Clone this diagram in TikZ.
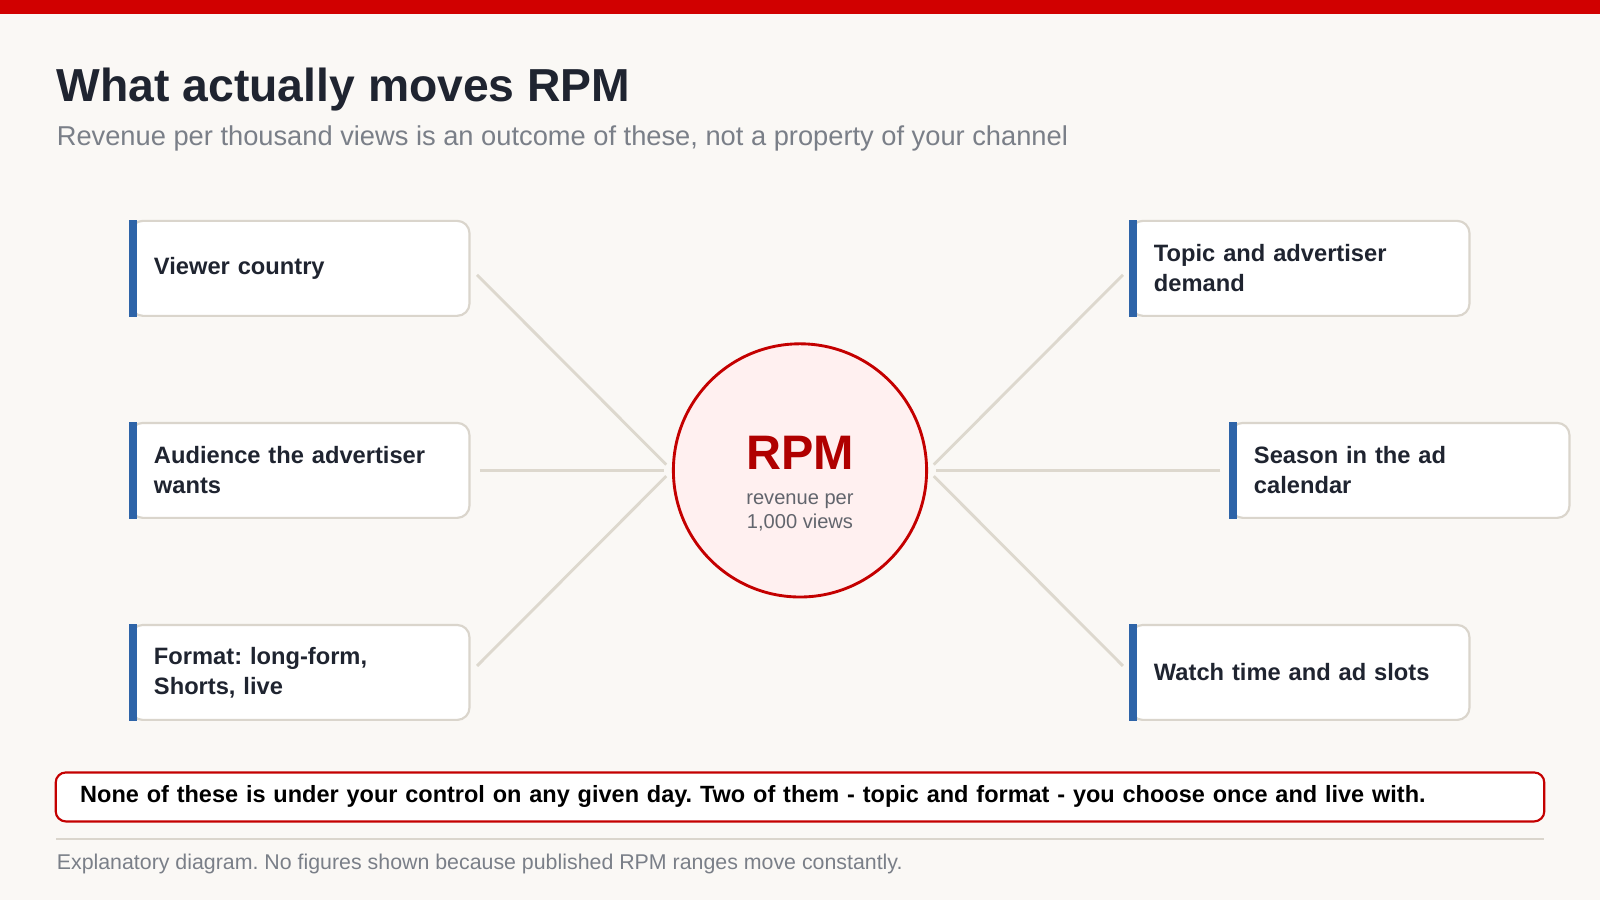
\documentclass[tikz,border=0pt]{standalone}
\usepackage{fontspec}
\setmainfont{Liberation Sans}
\usetikzlibrary{calc, positioning}
\frenchspacing
\definecolor{bgpaper}{HTML}{FAF8F5}
\definecolor{rpmred}{HTML}{C40000}
\definecolor{barred}{HTML}{D10000}
\definecolor{inkdark}{HTML}{1F2430}
\definecolor{inkgray}{HTML}{7A7F88}
\definecolor{edgegray}{HTML}{DAD5CC}
\definecolor{linkgray}{HTML}{DDD8CE}
\definecolor{barblue}{HTML}{2E64A8}
\tikzset{
    factor/.style={rectangle, draw=edgegray, line width=0.6pt, fill=white, rounded corners=0.12cm,
        minimum width=3.32cm, minimum height=0.93cm, text width=2.86cm, inner xsep=0.23cm,
        align=left, font=\fontsize{6.6}{8.4}\selectfont\bfseries, text=inkdark},
    link/.style={draw=linkgray, line width=0.8pt, shorten <=0.09cm, shorten >=0.08cm},
    hub/.style={circle, draw=rpmred, line width=0.8pt, fill=red!6, minimum size=2.48cm, align=center, inner sep=0pt},
    note/.style={rectangle, draw=rpmred, line width=0.6pt, fill=white, rounded corners=0.1cm,
        minimum width=14.58cm, minimum height=0.48cm, text width=14.1cm, align=left,
        font=\fontsize{6.55}{7.8}\selectfont\bfseries, text=black}
}
\newcommand{\sidebar}[1]{\fill[barblue] (#1.north west) rectangle ([xshift=0.07cm]#1.south west);}
\begin{document}
\begin{tikzpicture}[x=0.01cm, y=-0.01cm]
        \useasboundingbox (0,0) rectangle (1568,882);
        \fill[bgpaper] (0,0) rectangle (1568,882);
        \fill[barred] (0,0) rectangle (1568,14);

        % Heading
        \node[anchor=base west, inner sep=0pt, font=\fontsize{12.9}{15}\selectfont\bfseries, text=inkdark] (title) at (55,99) {What actually moves RPM};
        \node[anchor=base west, inner sep=0pt, font=\fontsize{7.6}{9}\selectfont, text=inkgray] (subtitle) at (55,143) {Revenue per thousand views is an outcome of these, not a property of your channel};

        % Centre
        \node[hub] (rpm) at (784,461) {};
        \node[font=\fontsize{13.5}{15}\selectfont\bfseries, text=rpmred!90!black, inner sep=0pt, anchor=base] (rpmname) at (784,460) {RPM};
        \node[font=\fontsize{5.6}{6.8}\selectfont, text=inkgray!80!black, align=center, inner sep=0pt, anchor=north] (rpmsub) at (784,483) {revenue per\\1,000 views};

        % Left factors
        \node[factor] (country) at (294,263) {Viewer country};
        \node[factor] (audience) at (294,461) {Audience the advertiser\\wants};
        \node[factor] (format) at (294,659) {Format: long-form,\\Shorts, live};

        % Right factors
        \node[factor] (topic) at (1274,263) {Topic and advertiser\\demand};
        \node[factor] (season) at (1372,461) {Season in the ad\\calendar};
        \node[factor] (watch) at (1274,659) {Watch time and ad slots};

        \foreach \f in {country, audience, format, topic, season, watch} {\sidebar{\f}}

        % Connections
        \draw[link] (country.east) -- (rpm.west);
        \draw[link] (audience.east) -- (rpm.west);
        \draw[link] (format.east) -- (rpm.west);
        \draw[link] (topic.west) -- (rpm.east);
        \draw[link] (season.west) -- (rpm.east);
        \draw[link] (watch.west) -- (rpm.east);

        % Bottom
        \node[note] (remark) at (784,781) {None of these is under your control on any given day. Two of them - topic and format - you choose once and live with.};
        \coordinate (ruleL) at (55,822);
        \coordinate (ruleR) at (1513,822);
        \draw[edgegray, line width=0.6pt] (ruleL) -- (ruleR);
        \node[anchor=base west, inner sep=0pt, font=\fontsize{5.95}{7}\selectfont, text=inkgray] (footer) at (55,852) {Explanatory diagram. No figures shown because published RPM ranges move constantly.};
    \end{tikzpicture}
\end{document}
